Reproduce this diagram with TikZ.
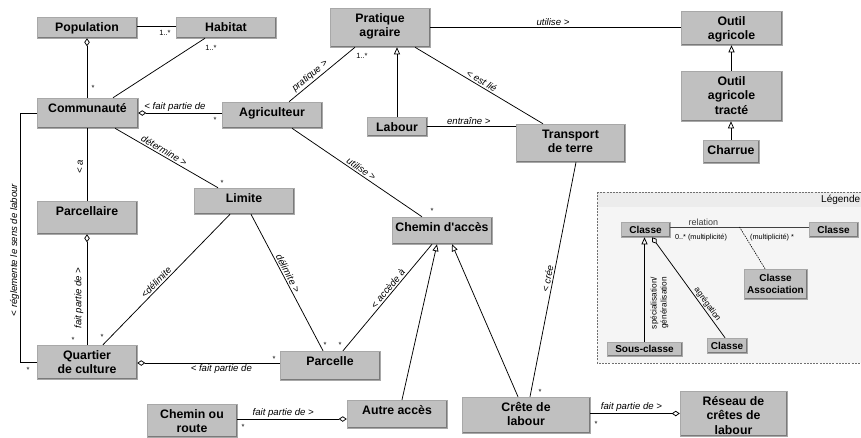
\documentclass[tikz,border=0pt]{standalone}
\usepackage{fontspec}
\setmainfont{Liberation Sans}[Ligatures=TeXOff]
\usetikzlibrary{arrows.meta}
\definecolor{boxfill}{HTML}{C0C0C0}
\definecolor{boxedge}{HTML}{A8A8A8}
\definecolor{boxshade}{HTML}{7A7A7A}
\definecolor{legfill}{HTML}{F5F5F5}
\definecolor{leghead}{HTML}{ECECEC}
\definecolor{legedge}{HTML}{707070}
\definecolor{relgray}{HTML}{404040}
\tikzset{
 box/.style={rectangle, fill=boxfill, draw=boxedge, line width=0.5pt, inner sep=0pt,
   path picture={\draw[boxshade, line width=1.6pt] (path picture bounding box.north east) -- (path picture bounding box.south east) -- (path picture bounding box.south west);}},
 boxtext/.style={anchor=base, align=center, inner sep=0pt, font=\fontsize{12.3}{14.5}\selectfont\bfseries},
 lbox/.style={box, align=center, font=\fontsize{10}{11.5}\selectfont\bfseries},
 conn/.style={draw=black, line width=0.75pt},
 aggr/.style={conn, -{Diamond[open, length=8pt, width=5.5pt]}},
 gen/.style={conn, -{Triangle[open, length=7pt, width=6pt]}},
 lab/.style={font=\fontsize{9.6}{11}\selectfont\itshape, inner sep=1.5pt},
 mult/.style={font=\fontsize{7.5}{9}\selectfont, inner sep=0pt},
 legsmall/.style={font=\fontsize{7.3}{9}\selectfont, inner sep=0pt},
 legtext/.style={font=\fontsize{8.3}{10}\selectfont, inner sep=1pt},
}
% name, cx, cy, width, height, number of lines, text
\newcommand{\ubox}[7]{%
 \node[box, minimum width=#4pt, minimum height=#5pt] (#1) at (#2,#3) {};
 \node[boxtext] (#1t) at ([yshift={-14.5pt*#6}]#1.north) {#7};}
\begin{document}
\begin{tikzpicture}[x=1pt, y=-1pt]
\useasboundingbox (0,0) rectangle (861,437);
\begin{scope}
\clip (0,0) rectangle (861,437);
% legend frame
\fill[legfill] (597,192) rectangle (875,363);
\fill[leghead] (597,192) rectangle (875,207);
\draw[legedge, dash pattern=on 2pt off 1.2pt, line width=0.6pt] (597,192) rectangle (875,363);
\node[anchor=west, font=\fontsize{10}{12}\selectfont, inner sep=0pt] (legt) at (821,199.5) {Légende};

% boxes
\ubox{pop}{87}{27.5}{100}{21}{1}{Population}
\ubox{hab}{226}{27.5}{100}{21}{1}{Habitat}
\ubox{com}{87.5}{113}{101}{30}{1}{Communauté}
\ubox{agr}{272}{115}{100}{26}{1}{Agriculteur}
\ubox{pra}{380}{27.5}{100}{39}{2}{Pratique\\agraire}
\ubox{lbr}{397}{126.5}{60}{19}{1}{Labour}
\ubox{tra}{570.5}{143}{109}{38}{2}{Transport\\de terre}
\ubox{out}{731.5}{28}{101}{34}{2}{Outil\\agricole}
\ubox{otr}{731.5}{96}{101}{50}{3}{Outil\\agricole\\tracté}
\ubox{cha}{731}{151.5}{56}{23}{1}{Charrue}
\ubox{par}{87}{217.5}{100}{33}{1}{Parcellaire}
\ubox{lim}{244}{201}{100}{26}{1}{Limite}
\ubox{che}{442}{230.5}{100}{27}{1}{Chemin d'accès}
\ubox{qua}{87}{362}{100}{34}{2}{Quartier\\de culture}
\ubox{pce}{330}{365.5}{100}{29}{1}{Parcelle}
\ubox{rou}{192}{420.5}{90}{33}{2}{Chemin ou\\route}
\ubox{aut}{397}{414}{100}{28}{1}{Autre accès}
\ubox{cre}{526}{415}{128}{36}{2}{Crête de\\labour}
\ubox{res}{733.5}{413.5}{107}{45}{3}{Réseau de\\crêtes de\\labour}

% connectors
\draw[conn] ([yshift=1.5pt]pop.east) -- ([yshift=1.5pt]hab.west);
\node[mult] (m1) at (165,33) {1..*};
\draw[conn] ([xshift=-21pt]hab.south) -- ([xshift=25.5pt]com.north);
\node[mult] (m2) at (211,48) {1..*};
\draw[aggr] (pop.south |- com.north) -- (pop.south);
\node[mult] (m3) at (93,87.5) {*};
\draw[aggr] ([yshift=2pt]agr.west) -- (com.east) node[lab, pos=0.56, above] (l1) {< fait partie de};
\node[mult] (m4) at (215,119.5) {*};
\draw[conn] ([xshift=17pt]agr.north) -- ([xshift=-25pt]pra.south) node[lab, sloped, pos=0.38, above] (l2) {pratique >};
\node[mult] (m5) at (362,56) {1..*};
\draw[conn] ([xshift=20pt]agr.south) -- ([xshift=-20pt]che.north) node[lab, sloped, pos=0.51, above] (l3) {utilise >};
\node[mult] (m6) at (432,210.5) {*};
\draw[conn] ([xshift=27.5pt]com.south) -- ([xshift=-26pt]lim.north) node[lab, sloped, pos=0.45, above] (l4) {détermine >};
\node[mult] (m7) at (222,182.5) {*};
\draw[conn] (par.north |- com.south) -- (par.north);
\node[lab, rotate=90] (l5) at (80,166.5) {< a};
\draw[aggr] (qua.north) -- (par.south);
\node[lab, rotate=90] (l6) at (79,298) {fait partie de >};
\node[mult] (m8) at (73,339.5) {*};
\draw[conn] (com.west) -- ++(-16pt,0) |- (qua.west);
\node[lab, rotate=90] (l7) at (14.5,250) {< réglemente le sens de labour};
\node[mult] (m9) at (28,369.5) {*};
\draw[conn] ([xshift=16pt]qua.north) -- ([xshift=-14pt]lim.south) node[lab, sloped, pos=0.45, above] (l8) {<délimite};
\node[mult] (m10) at (102,336.5) {*};
\draw[conn] ([xshift=7pt]lim.south) -- ([xshift=-7pt]pce.north) node[lab, sloped, pos=0.45, above] (l9) {délimite >};
\node[mult] (m11) at (325,344.5) {*};
\node[mult] (m12) at (340,344.5) {*};
\draw[conn] ([xshift=13pt]pce.north) -- ([xshift=-10pt]che.south) node[lab, sloped, pos=0.55, above] (l10) {< accède à};
\draw[aggr] ([yshift=2.5pt]pce.west) -- ([yshift=-1pt]qua.east) node[lab, pos=0.41, below] (l11) {< fait partie de};
\node[mult] (m13) at (274,358.5) {*};
\draw[gen] ([xshift=5pt]aut.north) -- ([xshift=-5pt]che.south);
\draw[gen] ([xshift=-8pt]cre.north) -- ([xshift=10pt]che.south);
\draw[aggr] ([yshift=1.5pt]rou.east) -- ([yshift=-5pt]aut.west) node[lab, pos=0.42, above] (l12) {fait partie de >};
\node[mult] (m14) at (243,426.5) {*};
\draw[conn] ([xshift=4pt]cre.north) -- ([xshift=5.5pt]tra.south) node[lab, sloped, pos=0.5, above] (l13) {< crée};
\node[mult] (m15) at (540,391.5) {*};
\draw[aggr] ([yshift=1.5pt]cre.east) -- (res.west) node[lab, pos=0.46, above] (l14) {fait partie de >};
\node[mult] (m16) at (596,423.5) {*};
\draw[gen] (lbr.north) -- (lbr.north |- pra.south);
\draw[conn] (lbr.east) -- (lbr.east -| tra.west) node[lab, pos=0.47, above] (l15) {entraîne >};
\draw[conn] ([xshift=35pt]pra.south) -- ([xshift=-27.5pt]tra.north) node[lab, sloped, pos=0.5, above] (l16) {< est lié};
\draw[conn] (pra.east) -- (pra.east -| out.west) node[lab, pos=0.49, above] (l17) {utilise >};
\draw[gen] (otr.north) -- (out.south);
\draw[gen] (cha.north) -- (cha.north |- otr.south);

% legend content
\node[lbox, minimum width=49pt, minimum height=15pt] (lc1) at (645.5,229.5) {Classe};
\node[lbox, minimum width=49pt, minimum height=15pt] (lc2) at (833.5,229.5) {Classe};
\node[lbox, minimum width=63pt, minimum height=30pt] (lca) at (775.5,284) {Classe\\Association};
\node[lbox, minimum width=75pt, minimum height=14pt] (lsc) at (644.5,349) {Sous-classe};
\node[lbox, minimum width=40pt, minimum height=15pt] (lc3) at (727,345.5) {Classe};
\draw[relgray, line width=0.9pt] ([yshift=2.5pt]lc1.east) -- ([yshift=2.5pt]lc2.west)
  node[pos=0.24, above, font=\fontsize{9}{11}\selectfont, inner sep=0.5pt] (lrel) {relation}
  coordinate[pos=0.5] (relmid);
\node[legsmall] (lm1) at (701,238) {0..* (multiplicité)};
\node[legsmall] (lm2) at (772,238) {(multiplicité) *};
\draw[conn, dash pattern=on 1.5pt off 1pt, line width=0.6pt] (relmid) -- ([xshift=-10.5pt]lca.north);
\draw[gen] (lsc.north) -- (lsc.north |- lc1.south);
\node[legtext, rotate=90, align=right] (lsg) at (659.5,303) {spécialisation/\\généralisation};
\draw[aggr] ([xshift=-2pt]lc3.north) -- ([xshift=6.5pt]lc1.south) node[legtext, sloped, above, pos=0.3] (lag) {agrégation};
\end{scope}
\end{tikzpicture}
\end{document}
